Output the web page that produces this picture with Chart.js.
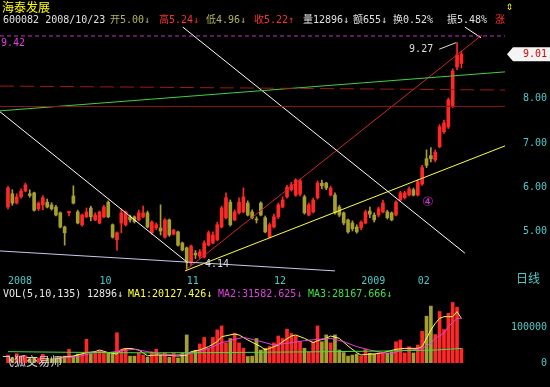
<!DOCTYPE html>
<html>
<head>
<meta charset="utf-8">
<script src="https://cdn.jsdelivr.net/npm/chart.js@4.4.0/dist/chart.umd.min.js"></script>
<style>
  body { margin: 0; background: #000; width: 550px; height: 387px; overflow: hidden; position: relative; }
  canvas { position: absolute; left: 0; }
  .t { position: absolute; font: 10px "DejaVu Sans Mono", "Noto Sans CJK SC", monospace; line-height: 12px; white-space: nowrap; }
  .cjk { position: absolute; font: 12px "Noto Sans CJK SC", sans-serif; line-height: 14px; white-space: nowrap; }
</style>
</head>
<body>
<canvas id="price" width="550" height="288" style="top:0"></canvas>
<canvas id="vol" width="550" height="100" style="top:287px"></canvas>

<div class="cjk" style="left:2px;top:0;color:#ffff00">海泰发展</div>
<div class="t" style="left:3px;top:14px;color:#e0e0e0">600082 2008/10/23</div>
<div class="t" style="left:110px;top:14px;color:#b4b45a">开5.00↓</div>
<div class="t" style="left:159px;top:14px;color:#ff3030">高5.24↓</div>
<div class="t" style="left:206px;top:14px;color:#b4b45a">低4.96↓</div>
<div class="t" style="left:254px;top:14px;color:#ff3030">收5.22↑</div>
<div class="t" style="left:303px;top:14px;color:#e0e0e0">量12896↓</div>
<div class="t" style="left:353px;top:14px;color:#e0e0e0">额655↓</div>
<div class="t" style="left:393px;top:14px;color:#e0e0e0">换0.52%</div>
<div class="t" style="left:447px;top:14px;color:#e0e0e0">振5.48%</div>
<div class="t" style="left:495px;top:14px;color:#ff3030">涨</div>
<div class="t" style="left:506px;top:0;color:#ffff00;font-size:12px">⇕</div>

<div class="t" style="left:3px;top:288px;color:#e8e8e8">VOL(5,10,135)</div>
<div class="t" style="left:87px;top:288px;color:#e8e8e8">12896↓</div>
<div class="t" style="left:128px;top:288px;color:#ffff40">MA1:20127.426↓</div>
<div class="t" style="left:218px;top:288px;color:#e040e0">MA2:31582.625↓</div>
<div class="t" style="left:308px;top:288px;color:#40e040">MA3:28167.666↓</div>

<div class="cjk" style="left:516px;top:271px;color:#50c8c8">日线</div>
<div class="cjk" style="left:2px;top:354px;color:#d0d0d0">飞狐交易师</div>

<script>
// daily candles, index 0 = first trading day shown (Sep 2008)
const opens = [5.56,5.86,5.65,5.79,5.92,5.86,5.88,5.52,5.61,5.67,5.61,5.56,5.43,5.11,5.43,5.81,5.45,5.16,5.34,5.54,
  5.27,5.20,5.34,5.67,5.16,4.82,5.20,5.16,5.34,5.34,5.27,5.34,5.43,4.98,5.09,5.09,4.88,5.27,4.95,5.00,
  4.75,4.64,4.30,4.52,4.45,4.43,4.70,4.75,4.82,5.11,5.32,5.67,5.27,5.43,5.45,5.65,5.45,5.29,5.65,5.32,
  4.88,5.11,5.34,5.56,5.79,5.95,5.83,5.85,5.79,5.38,5.45,5.77,6.10,6.10,5.83,5.83,5.56,5.43,5.27,5.20,
  5.11,5.09,5.20,5.47,5.38,5.38,5.45,5.45,5.43,5.38,5.72,5.77,5.83,5.95,5.83,6.08,6.65,6.72,6.62,6.92,
  7.26,7.37,7.83,8.72,8.80];
const highs = [6.03,5.95,5.86,5.97,6.10,5.95,5.90,5.68,5.82,5.74,5.66,5.60,5.45,5.13,5.47,6.04,5.49,5.40,5.54,5.58,
  5.43,5.47,5.60,5.70,5.18,5.00,5.52,5.47,5.38,5.36,5.49,5.58,5.47,5.25,5.20,5.61,5.30,5.29,5.06,5.02,
  4.77,4.66,4.70,4.58,4.60,4.80,5.02,5.00,5.22,5.58,5.88,5.72,5.50,5.77,5.99,5.70,5.50,5.34,5.68,5.36,
  5.20,5.40,5.65,5.79,6.05,6.12,6.20,6.19,5.83,5.65,5.76,6.15,6.17,6.12,6.03,5.88,5.60,5.45,5.29,5.25,
  5.16,5.25,5.49,5.56,5.43,5.56,5.72,5.49,5.45,5.70,5.92,5.92,6.01,5.99,6.17,6.50,6.85,6.90,6.85,7.42,
  7.52,8.02,8.68,9.27,9.08];
const lows = [5.52,5.60,5.63,5.76,5.90,5.78,5.47,5.48,5.50,5.54,5.49,5.36,5.09,4.70,5.36,5.63,5.18,5.13,5.32,5.25,
  5.25,5.18,5.32,5.32,4.86,4.59,4.98,5.13,5.22,5.20,5.25,5.32,5.09,4.95,5.05,4.93,4.86,4.90,4.93,4.68,
  4.57,4.14,4.25,4.40,4.40,4.41,4.68,4.73,4.80,5.09,5.29,5.13,5.25,5.40,5.43,5.36,5.29,5.20,5.36,4.98,
  4.86,5.09,5.30,5.54,5.76,5.92,5.80,5.81,5.40,5.36,5.43,5.74,5.97,5.95,5.81,5.40,5.34,5.16,4.97,5.02,
  4.97,5.05,5.18,5.32,5.22,5.34,5.43,5.29,5.25,5.36,5.70,5.74,5.81,5.81,5.81,6.05,6.45,6.58,6.58,6.90,
  7.22,7.33,7.80,8.66,8.70];
const closes = [5.99,5.65,5.79,5.92,6.06,5.82,5.49,5.65,5.77,5.56,5.52,5.38,5.11,4.98,5.46,5.65,5.20,5.38,5.45,5.34,
  5.38,5.45,5.56,5.34,4.88,4.98,5.43,5.45,5.27,5.23,5.43,5.43,5.11,5.22,5.16,5.02,5.27,4.93,5.04,4.70,
  4.59,4.32,4.68,4.48,4.55,4.75,4.98,4.93,5.16,5.54,5.77,5.16,5.45,5.67,5.79,5.38,5.32,5.27,5.38,5.00,
  5.16,5.34,5.61,5.72,6.01,6.06,6.17,6.15,5.43,5.61,5.72,6.10,6.04,5.99,5.99,5.43,5.38,5.20,5.00,5.07,
  5.00,5.22,5.45,5.40,5.27,5.52,5.65,5.32,5.27,5.67,5.88,5.88,5.97,5.83,6.13,6.45,6.50,6.65,6.80,7.37,
  7.46,7.98,8.63,8.99,9.01];
const volumes = [22000,15000,26000,18000,20000,12000,16000,14000,24000,13000,12000,15000,
  16000,19000,38000,19000,25000,25000,66000,25000,28000,33000,31000,27000,25000,84000,36000,41000,19000,19000,
  28000,22000,16000,31000,38000,22000,28000,16000,27000,14000,27000,78000,27000,35000,53000,71000,41000,71000,
  92000,103000,56000,68000,82000,56000,41000,18000,19000,68000,36000,41000,46000,
  56000,75000,68000,94000,82000,75000,59000,41000,31000,59000,103000,59000,78000,56000,78000,36000,29000,19000,
  22000,25000,19000,38000,27000,25000,28000,27000,27000,31000,59000,64000,28000,45000,28000,50000,88000,130000,
  158000,79000,143000,93000,138000,168000,155000,41000];

// volume moving averages: [day index, volume]
const ma5Points = [[12,15700],[15,19400],[18,28700],[20,31500],[21,36100],[23,28700],[25,25000],[26,38000],[28,40700],
  [30,36100],[32,20100],[34,22200],[36,22200],[39,19400],[41,22200],[42,31500],[44,36100],[46,45400],[48,59300],
  [49,73100],[52,80600],[53,77800],[55,63900],[58,45400],[59,36100],[61,45400],[62,50000],[63,59300],[65,75000],
  [66,77800],[68,68500],[70,56500],[71,62000],[73,68500],[74,75000],[76,68500],[78,47200],[80,28700],[81,22200],
  [83,25000],[84,25000],[86,28700],[89,38000],[91,40700],[94,40700],[95,45400],[96,68500],[97,91700],[98,110000],
  [99,124000],[100,128700],[102,128700],[103,142600],[104,124000]];
const ma10Points = [[12,13000],[16,17600],[19,26800],[21,31500],[23,28700],[26,34300],[29,38000],[32,31600],[35,25000],
  [38,22200],[41,25000],[44,31500],[47,45400],[49,56500],[52,65700],[54,71300],[56,65700],[59,56500],[61,50000],
  [65,56500],[68,62000],[71,65700],[74,68500],[77,59300],[80,45400],[83,36100],[86,28700],[88,26800],[90,34300],
  [94,38000],[95,40700],[97,54600],[98,68500],[100,82400],[101,101000],[103,124000],[104,124000]];
const ma135Points = [[0,31500],[12,30000],[32,28200],[50,29000],[70,31000],[88,33500],[98,36000],[104,40500]];

// hand-drawn lines: [day index, price]
const whiteFallA = [[-1.83,7.71],[41.3,4.30]];
const whiteFallB = [[40.1,9.62],[104.8,4.52]];
const whiteTick = [[104.8,9.62],[108.5,9.38]];
const redRise = [[40.8,4.14],[108.7,9.44]];
const yellowRise = [[40.6,4.12],[114,6.94]];
const greenRise = [[-1.83,7.73],[114,8.61]];
const lavenderFall = [[-1.83,4.57],[75,4.12]];
const redDashed = [[-1.83,8.29],[114,8.20]];
const redFlat = [[-1.83,7.83],[114,7.83]];
const highLine = [[-1.83,9.42],[114,9.42]];
const highCallout = [[98.9,9.12],[102.8,9.27]];

const monthIdx = [0, 21, 41, 61, 81, 94];
const monthLabels = ['2008', '10', '11', '12', '2009', '02'];
const priceTicks = [5, 6, 7, 8];
const volTicks = [0, 100000];

const RED = '#ff2828', OLIVE = '#a6a032', CYAN = '#50c8c8';
const FONT = { family: '"DejaVu Sans Mono", monospace', size: 10 };
const N = closes.length;
const colors = closes.map((c, i) => c >= opens[i] ? RED : OLIVE);
const X_MIN = -1.83, X_MAX = 114;

function line(points, color, dash, width) {
  return {
    type: 'line', data: points.map(([x, y]) => ({ x, y })),
    borderColor: color, borderWidth: width || 1, borderDash: dash || [],
    pointRadius: 0, fill: false, tension: 0, order: 0
  };
}

const notes = {
  id: 'notes',
  afterDatasetsDraw(chart) {
    const { ctx, scales: { x, y } } = chart;
    ctx.save();
    ctx.font = '10px "DejaVu Sans Mono"';
    ctx.textBaseline = 'middle';
    ctx.textAlign = 'left';
    ctx.fillStyle = '#e040e0';
    ctx.fillText(highLine[0][1].toFixed(2), x.left + 1, y.getPixelForValue(highLine[0][1]) + 7);
    ctx.fillStyle = '#dcdcdc';
    ctx.textAlign = 'right';
    ctx.fillText(highs[103].toFixed(2), x.getPixelForValue(highCallout[0][0]) - 6, y.getPixelForValue(highCallout[0][1]));
    ctx.textAlign = 'left';
    ctx.fillText(lows[41].toFixed(2), x.getPixelForValue(45.2), y.getPixelForValue(4.27));
    ctx.fillStyle = '#d030d0';
    ctx.font = '13px "DejaVu Sans"';
    ctx.textAlign = 'center';
    ctx.fillText('④', x.getPixelForValue(96.3), y.getPixelForValue(5.65));
    // last price marker
    const py = y.getPixelForValue(closes[N - 1]);
    const x0 = x.right + 2, x1 = chart.width;
    ctx.fillStyle = '#f4f4f4';
    ctx.beginPath();
    ctx.moveTo(x0, py); ctx.lineTo(x0 + 6, py - 7); ctx.lineTo(x1, py - 7);
    ctx.lineTo(x1, py + 7); ctx.lineTo(x0 + 6, py + 7); ctx.closePath(); ctx.fill();
    ctx.fillStyle = '#e00000';
    ctx.font = '10px "DejaVu Sans Mono"';
    ctx.textAlign = 'right';
    ctx.fillText(closes[N - 1].toFixed(2), x1 - 3, py);
    ctx.restore();
  }
};

new Chart(document.getElementById('price'), {
  type: 'bar',
  data: {
    datasets: [
      line(highLine, '#c030c0', [4, 3]),
      line(redDashed, '#a01818', [14, 6]),
      line(redFlat, '#901818'),
      line(greenRise, '#40d040'),
      line(lavenderFall, '#c8c8f0'),
      line(whiteFallA, '#ffffff'),
      line(whiteFallB, '#ffffff'),
      line(whiteTick, '#ffffff'),
      line(redRise, '#d02828'),
      line(yellowRise, '#ffff40'),
      line(highCallout, '#e0e0e0'),
      { data: lows.map((l, i) => ({ x: i, y: [l, highs[i]] })), backgroundColor: colors,
        barThickness: 1, grouped: false, order: 2 },
      { data: opens.map((o, i) => ({ x: i, y: [o, closes[i]] })), backgroundColor: colors,
        barThickness: 3, grouped: false, order: 1 }
    ]
  },
  options: {
    responsive: false, animation: false, devicePixelRatio: 1,
    layout: { padding: { top: 20, right: 3, left: 0, bottom: 0 } },
    plugins: { legend: { display: false }, tooltip: { enabled: false } },
    scales: {
      x: {
        type: 'linear', min: X_MIN, max: X_MAX, offset: false,
        grid: { display: false, drawTicks: false }, border: { display: false },
        afterBuildTicks: (axis) => { axis.ticks = monthIdx.map(v => ({ value: v })); },
        afterFit: (axis) => { axis.height = 14; },
        ticks: {
          color: CYAN, font: FONT, padding: 1, autoSkip: false, maxRotation: 0, align: 'start',
          callback: (v) => monthLabels[monthIdx.indexOf(v)]
        }
      },
      y: {
        position: 'right', min: 4.05, max: 9.78,
        grid: { display: false, drawTicks: false }, border: { display: false },
        afterBuildTicks: (axis) => { axis.ticks = priceTicks.map(v => ({ value: v })); },
        afterFit: (axis) => { axis.width = 42; },
        ticks: { color: CYAN, font: FONT, crossAlign: 'far', callback: (v) => v.toFixed(2) }
      }
    }
  },
  plugins: [notes]
});

new Chart(document.getElementById('vol'), {
  type: 'bar',
  data: {
    datasets: [
      line(ma135Points, '#40e040'),
      line(ma10Points, '#e040e0'),
      line(ma5Points, '#ffff40'),
      { data: volumes.map((v, i) => ({ x: i, y: v })), backgroundColor: colors,
        barThickness: 3, grouped: false, order: 1 }
    ]
  },
  options: {
    responsive: false, animation: false, devicePixelRatio: 1,
    layout: { padding: { top: 13, right: 3, left: 0, bottom: 24 } },
    plugins: { legend: { display: false }, tooltip: { enabled: false } },
    scales: {
      x: { type: 'linear', min: X_MIN, max: X_MAX, offset: false, display: false },
      y: {
        position: 'right', min: 0, max: 175000,
        grid: { display: false, drawTicks: false }, border: { display: false },
        afterBuildTicks: (axis) => { axis.ticks = volTicks.map(v => ({ value: v })); },
        afterFit: (axis) => { axis.width = 42; },
        ticks: { color: CYAN, font: FONT, crossAlign: 'far', callback: (v) => String(v) }
      }
    }
  }
});
</script>
</body>
</html>
